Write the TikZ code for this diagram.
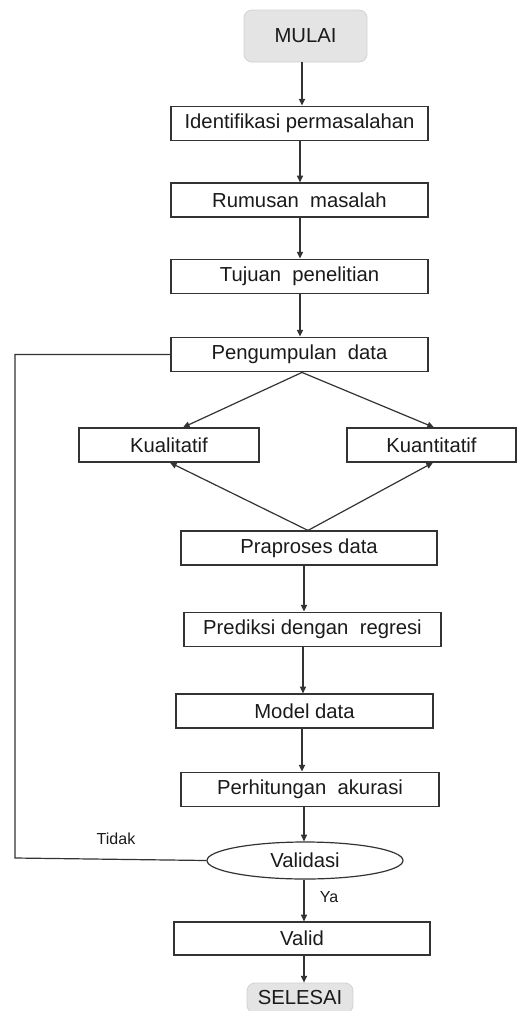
\documentclass[tikz,border=0pt]{standalone}
\usepackage{fontspec}
\setmainfont{Liberation Sans}
\usetikzlibrary{shapes.geometric,arrows.meta,calc}
\definecolor{ln}{HTML}{333333}
\definecolor{txt}{HTML}{1A1A1A}
\definecolor{termfill}{HTML}{E4E4E4}
\definecolor{termdraw}{HTML}{D2D2D2}
\begin{document}
\begin{tikzpicture}[x=0.75pt,y=-0.75pt,
  font=\fontsize{15.2}{18}\selectfont, text=txt,
  box/.style={draw=ln, line width=0.9pt, rectangle, inner sep=0pt, minimum height=#1},
  box/.default=26pt,
  term/.style={draw=termdraw, fill=termfill, rounded corners=6pt, inner sep=0pt, line width=0.6pt},
  arr/.style={draw=ln, line width=0.9pt, -{Triangle[length=5pt,width=4.5pt]}},
  plain/.style={draw=ln, line width=0.9pt},
  lbl/.style={font=\fontsize{12}{14}\selectfont, inner sep=0pt}]
\useasboundingbox (0,0) rectangle (517,1011);
\fill[white] (0,0) rectangle (517,1011);

\node[term, minimum width=92.25pt, minimum height=39pt] (mulai) at (305.5,36) {MULAI};
\node[box, minimum width=192.75pt] (ident) at (299.5,123.5) {Identifikasi permasalahan};
\node[box=25.5pt, minimum width=192.75pt] (rumus) at (299.5,200) {Rumusan~~masalah};
\node[box, minimum width=192.75pt] (tujuan) at (299.5,276.5) {Tujuan~~penelitian};
\node[box, minimum width=192.75pt] (kumpul) at (299.5,354.5) {Pengumpulan~~data};
\node[box=25.5pt, minimum width=135pt] (kual) at (169,445) {Kualitatif};
\node[box=25.5pt, minimum width=126.75pt] (kuan) at (431.5,445) {Kuantitatif};
\node[box=25.5pt, minimum width=192pt] (prap) at (309,548) {Praproses data};
\node[box, minimum width=192.75pt] (pred) at (312.5,629.5) {Prediksi dengan~~regresi};
\node[box=25.5pt, minimum width=192.75pt] (model) at (304.5,711) {Model data};
\node[box, minimum width=193.5pt] (hitung) at (310,789.5) {Perhitungan~~akurasi};
\node[draw=ln, line width=0.9pt, ellipse, inner sep=0pt, minimum width=147pt, minimum height=27.75pt] (valsi) at (305,860.5) {Validasi};
\node[box=24.75pt, minimum width=192pt] (valid) at (302,938.5) {Valid};
\node[term, minimum width=79.5pt, minimum height=22.5pt] (selesai) at (300,998) {SELESAI};

\node[lbl] (tidak) at (116,839) {Tidak};
\node[lbl] (ya) at (329,897) {Ya};

\draw[arr] (mulai.south -| 302,0) -- (302,0 |- ident.north);
\draw[arr] (ident.south -| 300,0) -- (300,0 |- rumus.north);
\draw[arr] (rumus.south -| 300,0) -- (300,0 |- tujuan.north);
\draw[arr] (tujuan.south -| 300,0) -- (300,0 |- kumpul.north);
\draw[arr] (kumpul.south -| 302,0) -- (kual.north -| 183,0);
\draw[arr] (kumpul.south -| 302,0) -- (kuan.north -| 434,0);
\draw[arr] (prap.north -| 308,0) -- (kual.south -| 170,0);
\draw[arr] (prap.north -| 308,0) -- (kuan.south -| 433,0);
\draw[arr] (prap.south -| 304,0) -- (304,0 |- pred.north);
\draw[arr] (pred.south -| 303,0) -- (303,0 |- model.north);
\draw[arr] (model.south -| 302,0) -- (302,0 |- hitung.north);
\draw[arr] (hitung.south -| 304,0) -- (304,0 |- valsi.north);
\draw[arr] (valsi.south -| 304,0) -- (304,0 |- valid.north);
\draw[arr] (valid.south -| 304,0) -- (304,0 |- selesai.north);
\coordinate (lc) at (15,858);
\draw[plain] (valsi.west) -- (lc) -- (lc |- kumpul.west) -- (kumpul.west);
\end{tikzpicture}
\end{document}
